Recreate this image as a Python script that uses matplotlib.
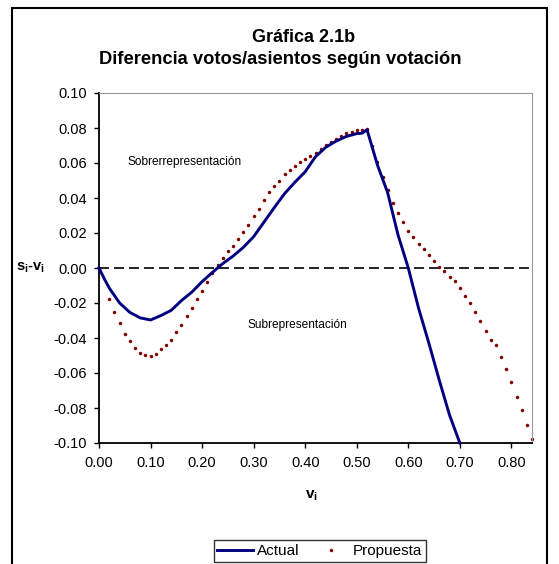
import matplotlib
matplotlib.use("Agg")
import matplotlib.pyplot as plt
from matplotlib.patches import Rectangle

plt.rcParams["font.family"] = ["Liberation Sans", "DejaVu Sans"]
plt.rcParams["mathtext.fontset"] = "custom"
plt.rcParams["mathtext.bf"] = "Liberation Sans:bold"
plt.rcParams["mathtext.rm"] = "Liberation Sans"
plt.rcParams["mathtext.it"] = "Liberation Sans:italic"

# Actual (línea continua)
v_act = [0.00, 0.01, 0.02, 0.04, 0.06, 0.08, 0.10, 0.12, 0.14, 0.16, 0.18, 0.20,
         0.22, 0.24, 0.26, 0.28, 0.30, 0.32, 0.34, 0.36, 0.38, 0.40, 0.42, 0.44,
         0.46, 0.48, 0.50, 0.51, 0.52, 0.53, 0.54, 0.56, 0.58, 0.60, 0.62, 0.64,
         0.66, 0.68, 0.70]
d_act = [0.0, -0.006, -0.0115, -0.0200, -0.0254, -0.0285, -0.0297, -0.0272, -0.0242,
         -0.0186, -0.0138, -0.0078, -0.0025, 0.0025, 0.0068, 0.0118, 0.0179, 0.0262,
         0.0345, 0.0425, 0.0490, 0.0550, 0.0636, 0.0690, 0.0725, 0.0752, 0.0768,
         0.0770, 0.0790, 0.0690, 0.0590, 0.0430, 0.0190, 0.0000, -0.0230, -0.0430,
         -0.0640, -0.0840, -0.1000]

# Propuesta (puntos)
v_prop = [0.00] + [round(0.02 + 0.01 * k, 2) for k in range(83)]
d_prop = [0.0, -0.0175, -0.025, -0.0316, -0.0377, -0.0417, -0.0459, -0.0488, -0.0497,
          -0.0503, -0.0491, -0.0465, -0.044, -0.041, -0.0367, -0.0326, -0.0274, -0.0227,
          -0.0177, -0.013, -0.0078, -0.003, 0.0017, 0.006, 0.0096, 0.0128, 0.0168,
          0.0203, 0.0243, 0.0296, 0.0337, 0.0388, 0.0435, 0.047, 0.050, 0.0536, 0.056,
          0.0583, 0.0606, 0.0621, 0.064, 0.0657, 0.0679, 0.0704, 0.0719, 0.0735, 0.0752,
          0.077, 0.0778, 0.0788, 0.0787, 0.0795, 0.0697, 0.0604, 0.052, 0.0446, 0.037,
          0.0312, 0.0261, 0.021, 0.0177, 0.0135, 0.0109, 0.0076, 0.0042, 0.0008, -0.0015,
          -0.005, -0.0074, -0.0116, -0.0158, -0.0201, -0.0251, -0.0301, -0.036, -0.041,
          -0.0442, -0.051, -0.0577, -0.0651, -0.0737, -0.0811, -0.0895, -0.0979]

xticks = [0.0, 0.1, 0.2, 0.3, 0.4, 0.5, 0.6, 0.7, 0.8]
yticks = [0.10, 0.08, 0.06, 0.04, 0.02, 0.0, -0.02, -0.04, -0.06, -0.08, -0.10]

fig = plt.figure(figsize=(5.59, 5.64), dpi=100)
ax = fig.add_axes([99 / 559, 1 - 443 / 564, 433 / 559, 350 / 564])

ax.axhline(0, color="black", lw=1.2, ls=(0, (6, 3)), zorder=1)
ax.plot(v_act, d_act, color="#000080", lw=2.1, label="Actual", zorder=3, clip_on=False)
ax.plot(v_prop, d_prop, ls="none", marker="o", ms=2.5, color="#800000",
        markeredgewidth=0, label="Propuesta", zorder=2, clip_on=False)

ax.set_xlim(0, 0.84)
ax.set_ylim(-0.10, 0.10)
ax.set_xticks(xticks)
ax.set_yticks(yticks)
ax.set_xticklabels([f"{t:.2f}" for t in xticks])
ax.set_yticklabels([f"{t:.2f}" for t in yticks])
ax.tick_params(axis="both", labelsize=10.5, direction="out", length=3.6, width=1, colors="black")
ax.tick_params(axis="y", pad=5)
ax.tick_params(axis="x", pad=6)
for s in ("top", "right"):
    ax.spines[s].set_color("#999999")
for s in ("left", "bottom"):
    ax.spines[s].set_color("black")
    ax.spines[s].set_linewidth(1.3)

ax.text(0.056, 0.0606, "Sobrerrepresentación", fontsize=8.6, va="center", ha="left")
ax.text(0.288, -0.0326, "Subrepresentación", fontsize=8.6, va="center", ha="left")

fig.text(304 / 559, 1 - 37 / 564, "Gráfica 2.1b", fontsize=13, fontweight="bold",
         ha="center", va="center")
fig.text(280 / 559, 1 - 60 / 564, "Diferencia votos/asientos según votación", fontsize=13.2,
         fontweight="bold", ha="center", va="center")
fig.text(30 / 559, 1 - 268 / 564, r"$\mathbf{s_i}$-$\mathbf{v_i}$", fontsize=10.5,
         fontweight="bold", ha="center", va="center")
fig.text(311 / 559, 1 - 496 / 564, r"$\mathbf{v_i}$", fontsize=11, ha="center", va="center")

leg = fig.legend(loc="center", bbox_to_anchor=(320 / 559, 1 - 551 / 564), ncol=2,
                 fontsize=11, frameon=True, fancybox=False, edgecolor="black",
                 handlelength=2.3, handletextpad=0.3, columnspacing=0.9,
                 borderpad=0.25, borderaxespad=0)
leg.get_frame().set_linewidth(1.0)

fig.patches.append(Rectangle((12 / 559, -0.05), 535 / 559, 1.05 - 8 / 564, transform=fig.transFigure,
                             fill=False, edgecolor="black", lw=1.5))

fig.savefig("out.png", dpi=100)
